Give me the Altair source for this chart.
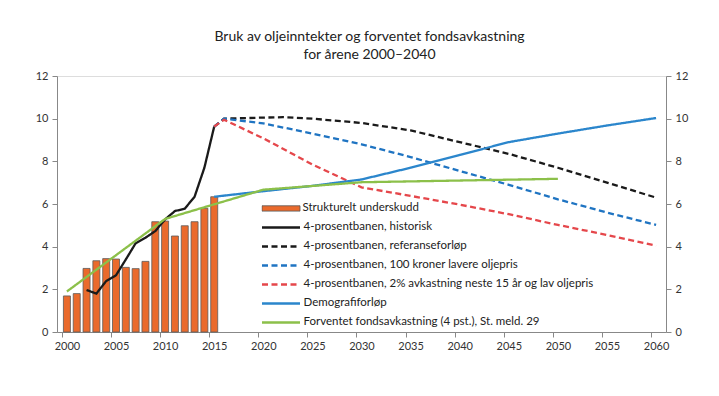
import altair as alt
import pandas as pd

FONT = "Lato"

# ---- data ----
bar_years = list(range(2000, 2016))
underskudd = [1.69, 1.80, 2.98, 3.34, 3.44, 3.42, 3.03, 2.97, 3.31, 5.17, 5.20, 4.50, 4.98, 5.17, 5.80, 6.34]

hist_years = list(range(2002, 2016))
hist_vals = [1.97, 1.80, 2.39, 2.66, 3.40, 4.16, 4.42, 4.73, 5.28, 5.67, 5.78, 6.34, 7.70, 9.63]

ref_years = [2015, 2016, 2020, 2022, 2025, 2030, 2035, 2040, 2045, 2050, 2055, 2060]
ref_vals = [9.63, 10.00, 10.05, 10.07, 10.00, 9.80, 9.45, 8.90, 8.35, 7.70, 7.00, 6.30]

lav_years = [2015, 2016, 2020, 2025, 2030, 2035, 2040, 2045, 2050, 2055, 2060]
lav_vals = [9.63, 10.00, 9.78, 9.30, 8.80, 8.20, 7.55, 6.90, 6.22, 5.60, 5.02]

avk_years = [2015, 2016, 2020, 2025, 2030, 2035, 2040, 2045, 2050, 2055, 2060]
avk_vals = [9.63, 9.95, 9.08, 7.85, 6.78, 6.38, 5.97, 5.52, 5.02, 4.55, 4.05]

demo_years = [2015, 2020, 2025, 2030, 2035, 2040, 2045, 2050, 2055, 2060]
demo_vals = [6.34, 6.60, 6.85, 7.15, 7.70, 8.30, 8.90, 9.30, 9.68, 10.03]

fond_years = [2000, 2010, 2020, 2030, 2040, 2050]
fond_vals = [1.90, 5.30, 6.67, 7.02, 7.10, 7.18]

bar_name = "Strukturelt underskudd"
line_names = [
    "4-prosentbanen, historisk",
    "4-prosentbanen, referanseforløp",
    "4-prosentbanen, 100 kroner lavere oljepris",
    "4-prosentbanen, 2% avkastning neste 15 år og lav oljepris",
    "Demografiforløp",
    "Forventet fondsavkastning (4 pst.), St. meld. 29",
]
line_colors = ["#1a1a1a", "#1a1a1a", "#1f74c2", "#e5474b", "#2b86cc", "#8cc04a"]
line_dashes = [[1, 0], [6, 3.5], [6, 3.5], [6, 3.5], [1, 0], [1, 0]]

x_ticks = list(range(2000, 2061, 5))
y_ticks = [0, 2, 4, 6, 8, 10, 12]

# ---- tables ----
bars = pd.DataFrame({"year": bar_years, "v": underskudd, "serie": bar_name})
series = [
    (hist_years, hist_vals), (ref_years, ref_vals), (lav_years, lav_vals),
    (avk_years, avk_vals), (demo_years, demo_vals), (fond_years, fond_vals),
]
rows = []
for name, (ys, vs) in zip(line_names, series):
    for y, v in zip(ys, vs):
        rows.append({"year": y, "v": v, "serie": name})
lines = pd.DataFrame(rows)

xscale = alt.Scale(domain=[1999.5, 2060.5], nice=False, zero=False)
yscale = alt.Scale(domain=[0, 12], nice=False)

xaxis = alt.Axis(values=x_ticks, format="d", title=None, grid=False, tickOffset=-5, labelOffset=5,
                 tickSize=5, domainColor="#888", tickColor="#888", labelColor="#333",
                 labelFontSize=11, labelFont=FONT, labelPadding=3, labelFlush=False)
yaxis_left = alt.Axis(values=y_ticks, title=None, grid=False, tickSize=5, domainColor="#888",
                      tickColor="#888", labelColor="#333", labelFontSize=11, labelFont=FONT,
                      orient="left", labelPadding=4)
yaxis_right = alt.Axis(values=y_ticks, title=None, grid=False, tickSize=5, domainColor="#888",
                       tickColor="#888", labelColor="#333", labelFontSize=11, labelFont=FONT,
                       orient="right", labelPadding=4)

bar_legend = alt.Legend(orient="none", legendX=204.5, legendY=124, title=None,
                        symbolType="M-1,-0.14H1V0.14H-1Z", symbolSize=1444,
                        symbolStrokeColor="#555", symbolStrokeWidth=0.8, clipHeight=16.9,
                        labelOffset=2, labelFontSize=11.5, labelFont=FONT, labelColor="#222")
line_legend = alt.Legend(orient="none", legendX=203.5, legendY=143, title=None,
                         symbolType="stroke", symbolSize=1444, symbolStrokeWidth=2.5,
                         clipHeight=16.9, rowPadding=2, labelOffset=2, labelFontSize=11.5,
                         labelFont=FONT, labelColor="#222", labelLimit=400)

bar_layer = alt.Chart(bars).mark_bar(size=7, stroke="#5a5a5a", strokeWidth=0.8).encode(
    x=alt.X("year:Q", scale=xscale, axis=xaxis),
    y=alt.Y("v:Q", scale=yscale, axis=yaxis_left),
    fill=alt.Fill("serie:N", scale=alt.Scale(domain=[bar_name], range=["#ea6a2c"]), legend=bar_legend),
)

line_layers = []
for name in line_names:
    line_layers.append(
        alt.Chart(lines).transform_filter(alt.datum.serie == name).mark_line(strokeWidth=2.3).encode(
            x=alt.X("year:Q", scale=xscale),
            y=alt.Y("v:Q", scale=yscale),
            stroke=alt.Stroke("serie:N", scale=alt.Scale(domain=line_names, range=line_colors),
                              legend=line_legend),
            strokeDash=alt.StrokeDash("serie:N", scale=alt.Scale(domain=line_names, range=line_dashes),
                                      legend=line_legend),
        )
    )

main = alt.layer(bar_layer, *line_layers)

right = alt.Chart(bars).mark_point(opacity=0).encode(
    x=alt.X("year:Q", scale=xscale),
    y=alt.Y("v:Q", scale=yscale, axis=yaxis_right),
)

chart = alt.layer(main, right).resolve_scale(y="independent").properties(
    width=609, height=256,
    autosize=alt.AutoSizeParams(type="none"),
    padding={"left": 49, "top": 68, "right": 45, "bottom": 56},
    title=alt.TitleParams(
        text=["Bruk av oljeinntekter og forventet fondsavkastning", "for årene 2000–2040"],
        font=FONT, fontSize=14, fontWeight="normal", color="#222", anchor="middle",
        dx=8, offset=8, lineHeight=18,
    ),
).configure_view(stroke=None).configure(background="white")

chart.save("out.html", embed_options={"renderer": "svg", "actions": False})
